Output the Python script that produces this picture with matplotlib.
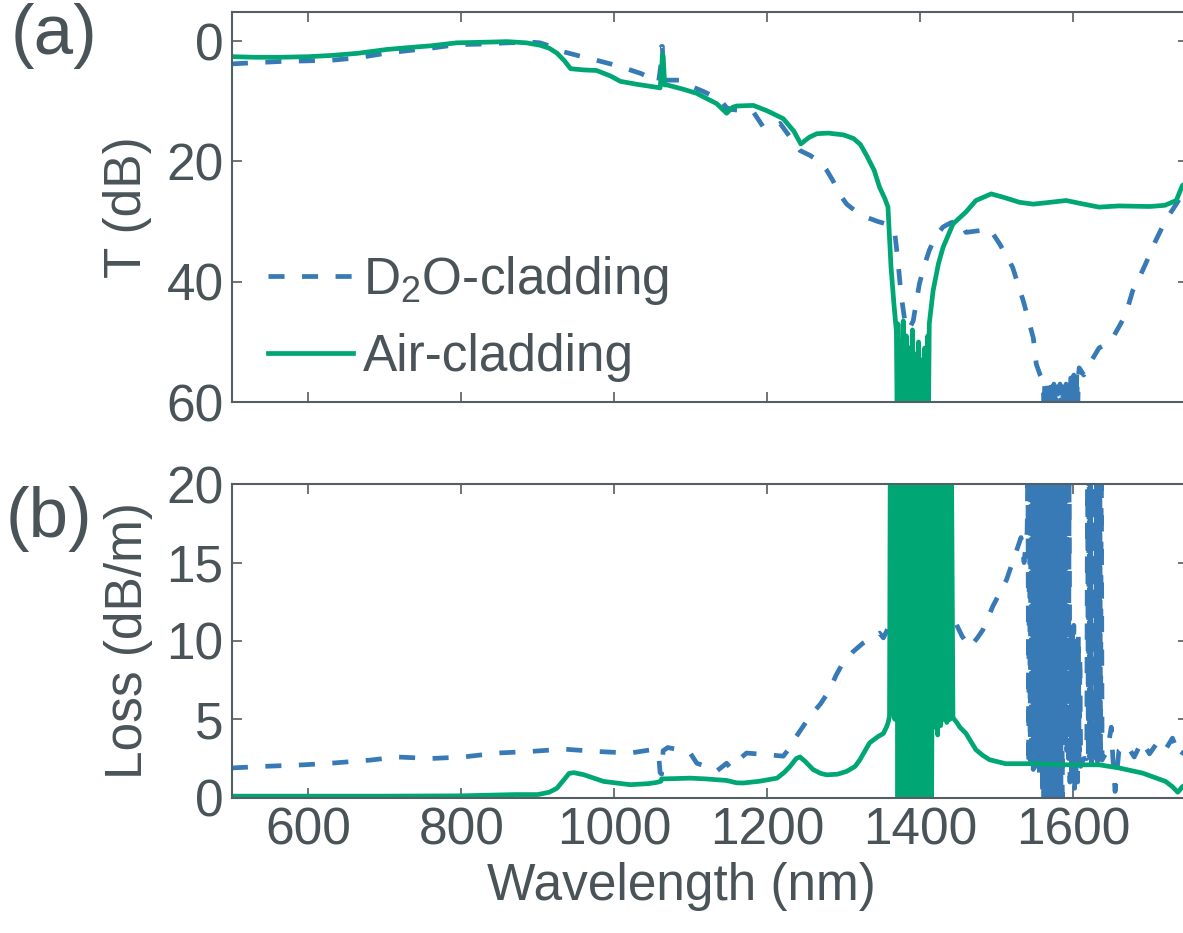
import matplotlib
matplotlib.use("Agg")
import matplotlib.pyplot as plt

# Transmission (dB, plotted downward) for both claddings
wl_t_air = [500, 530, 564, 600, 630, 664, 703, 730, 760, 794, 830, 860, 885, 903, 915, 925,
            935, 943, 960, 977, 995, 1008, 1030, 1056, 1060, 1062, 1063, 1064, 1066, 1069,
            1090, 1108, 1120, 1134, 1147, 1155, 1160, 1182, 1200, 1221, 1235, 1244, 1255,
            1265, 1280, 1300, 1313, 1322, 1330, 1340, 1347, 1354, 1358, 1362, 1366, 1369,
            1370, 1371, 1372, 1374, 1376, 1378, 1380, 1382, 1384, 1386, 1388, 1390, 1392,
            1394, 1396, 1398, 1400, 1402, 1404, 1406, 1408, 1410, 1411, 1412,
            1417, 1424, 1430, 1443, 1460, 1473, 1493, 1510, 1530, 1548, 1570, 1591, 1610,
            1634, 1660, 1700, 1720, 1735, 1743, 1750]
t_air = [2.6, 2.7, 2.7, 2.6, 2.4, 2.05, 1.4, 1.1, 0.8, 0.3, 0.2, 0.1, 0.3, 0.7, 1.2, 2.0,
         3.3, 4.6, 4.8, 4.9, 5.8, 6.7, 7.2, 7.7, 7.8, 5.0, 2.3, 2.5, 7.3, 7.3,
         8.0, 8.7, 9.5, 10.4, 12.0, 11.0, 10.8, 10.7, 11.6, 12.9, 15.0, 17.1, 16.0,
         15.4, 15.3, 15.6, 16.2, 17.2, 19.0, 21.5, 24.3, 26.2, 27.6, 37.6, 44.0, 48.2,
         62, 47, 62, 50, 62, 46.5, 62, 49, 62, 51, 62, 48, 62,
         52, 62, 50, 62, 53, 62, 51, 62, 49, 62, 47,
         41.5, 37.0, 34.3, 30.4, 28.4, 26.5, 25.4, 26.0, 26.8, 27.1, 26.8, 26.5, 27.0,
         27.6, 27.4, 27.5, 27.3, 26.5, 24.0, 23.5]

wl_t_d2o = [500, 530, 564, 600, 630, 664, 703, 730, 760, 794, 830, 860, 893, 903, 915, 934,
            955, 977, 995, 1016, 1035, 1047, 1058, 1061, 1062, 1063, 1064, 1066, 1086, 1100,
            1117, 1130, 1138, 1147, 1155, 1170, 1182, 1195, 1205, 1217, 1225, 1243, 1256,
            1268, 1278, 1286, 1295, 1304, 1318, 1330, 1345, 1356, 1367, 1371, 1375, 1380,
            1385, 1391, 1395, 1399, 1405, 1412, 1420, 1430, 1440, 1452, 1460, 1478, 1491,
            1504, 1521, 1535, 1548, 1552, 1557, 1561,
            1562, 1563, 1564, 1565, 1566, 1567, 1568, 1569, 1570, 1571, 1572, 1573, 1574,
            1575, 1576, 1577, 1578, 1579, 1580, 1581, 1582, 1583, 1584, 1585, 1586, 1587,
            1588, 1589, 1590, 1591, 1592, 1593, 1594, 1595, 1596, 1597, 1598, 1599, 1600,
            1601, 1602, 1603, 1604, 1605, 1606, 1607,
            1608, 1614, 1621, 1627, 1634, 1642, 1652, 1660, 1669, 1678, 1686, 1695, 1708,
            1721, 1735, 1743, 1750]
t_d2o = [3.8, 3.6, 3.4, 3.3, 3.2, 2.8, 2.0, 1.6, 1.2, 0.6, 0.5, 0.3, 0.2, 0.3, 0.8, 1.8,
         2.5, 3.2, 3.8, 4.6, 5.4, 6.1, 6.8, 4.0, 0.9, 0.9, 5.0, 6.5, 6.5, 7.5,
         8.4, 9.2, 9.6, 11.1, 11.4, 11.6, 11.8, 14.3, 14.3, 13.7, 15.1, 18.2, 19.0,
         20.0, 21.5, 23.2, 25.5, 27.1, 28.5, 29.3, 30.0, 30.4, 32.0, 36.5, 42.0, 46.5,
         48.0, 46.5, 43.5, 40.4, 37.5, 34.8, 32.5, 30.9, 30.2, 29.8, 31.8, 31.5, 31.2,
         33.7, 37.6, 43.2, 49.3, 53.7, 55.5, 56.5,
         62, 57, 62, 58, 62, 56.5, 62, 58, 62, 57.5, 62, 58.5, 62,
         57, 62, 58, 62, 57.5, 62, 58.5, 62, 57, 62, 58, 62, 57.5,
         62, 58, 62, 57, 62, 58.5, 62, 57, 62, 56, 62, 57.5, 62,
         55.5, 62, 57, 62, 55, 62, 56,
         54.3, 55.5, 53.7, 52.5, 51.0, 50.5, 49.3, 47.5, 45.4, 41.5, 39.5, 37.0, 33.2,
         29.8, 27.1, 25.4, 24.5]

# Propagation loss (dB/m)
wl_l_air = [500, 600, 700, 800, 870, 900, 915, 925, 936, 941, 947, 960, 986, 1021, 1045,
            1056, 1061, 1062, 1080, 1099, 1120, 1147, 1160, 1169, 1190, 1213, 1222, 1230,
            1238, 1243, 1250, 1260, 1270, 1278, 1292, 1304, 1315, 1321, 1334, 1345, 1352,
            1356, 1358,
            1360, 1361, 1363, 1365, 1367, 1369, 1371, 1373, 1375, 1377, 1379, 1381, 1383,
            1385, 1387, 1389, 1391, 1393, 1395, 1397, 1399, 1401, 1403, 1405, 1407, 1409,
            1411, 1413, 1415, 1417, 1419, 1421, 1423, 1425, 1427, 1429, 1431, 1433, 1435,
            1437, 1439, 1441, 1443,
            1448, 1452, 1460, 1473, 1482, 1491, 1512, 1548, 1591, 1634, 1660, 1691, 1721,
            1730, 1737, 1743, 1750]
l_air = [0.1, 0.1, 0.1, 0.12, 0.2, 0.2, 0.35, 0.6, 1.25, 1.55, 1.6, 1.47, 1.04, 0.83, 0.9,
         0.98, 1.05, 1.2, 1.22, 1.25, 1.2, 1.1, 0.95, 0.94, 1.05, 1.25, 1.6, 2.0,
         2.5, 2.6, 2.3, 1.8, 1.55, 1.46, 1.5, 1.68, 2.0, 2.4, 3.5, 3.9, 4.1,
         4.5, 4.76,
         5.2, 22, 5.4, 22, 5.0, 22, -1, 22, -1, 22, -1, 22, -1,
         22, -1, 22, -1, 22, -1, 22, -1, 22, -1, 22, -1, 22,
         -1, 22, -1, 22, 4.5, 22, 4.0, 22, 4.6, 22, 5.0, 22, 4.8,
         22, 5.0, 22, 5.1,
         4.8, 4.5, 4.1, 3.06, 2.7, 2.42, 2.17, 2.17, 2.1, 2.1, 1.9, 1.57, 1.04,
         0.7, 0.35, 0.7, 0.9]

wl_l_d2o = [500, 542, 594, 629, 681, 716, 760, 803, 847, 890, 934, 977, 1021, 1047, 1058,
            1060, 1062, 1064, 1070, 1086, 1100, 1108, 1120, 1134, 1147, 1152, 1160, 1173,
            1199, 1221, 1230, 1238, 1256, 1270, 1282, 1290, 1299, 1312, 1325, 1340, 1347,
            1352, 1365, 1380, 1401, 1420, 1435, 1445, 1455, 1465, 1475, 1482, 1495, 1513,
            1525, 1532, 1536, 1540,
            1541, 1542, 1543, 1544, 1545, 1546, 1547, 1548, 1549, 1550, 1551, 1552, 1553,
            1554, 1555, 1556, 1557, 1558, 1559, 1560, 1561, 1562, 1563, 1564, 1565, 1566,
            1567, 1568, 1569, 1570, 1571, 1572, 1573, 1574, 1575, 1576, 1577, 1578, 1579,
            1580, 1581, 1582, 1583, 1584, 1585, 1586, 1587, 1588, 1589, 1590, 1591, 1592,
            1593, 1594, 1595, 1596, 1597, 1598, 1599, 1600, 1601, 1602, 1603, 1604, 1605,
            1606, 1607, 1608, 1609, 1610, 1614,
            1618, 1619, 1620, 1621, 1622, 1623, 1624, 1625, 1626, 1627, 1628, 1629, 1630,
            1631, 1632, 1633, 1634, 1635, 1636, 1637, 1638, 1639,
            1645, 1650, 1652, 1655, 1660, 1670, 1680, 1690, 1700, 1710, 1720, 1730, 1740,
            1750]
l_d2o = [1.9, 2.0, 2.1, 2.2, 2.4, 2.6, 2.5, 2.6, 2.85, 2.95, 3.1, 2.95, 2.85, 3.05, 2.8,
         1.6, 1.5, 3.0, 3.2, 3.05, 2.8, 2.2, 2.0, 1.7, 2.2, 1.9, 2.3, 2.85,
         2.75, 2.65, 3.2, 3.9, 5.2, 6.0, 6.9, 7.8, 8.6, 9.3, 9.85, 10.3, 10.5,
         10.2, 11.5, 12.8, 13.9, 12.5, 11.8, 11.3, 10.3, 9.6, 10.2, 10.7, 12.2, 13.9,
         15.6, 16.6, 15.0, 17.0,
         22, 2.0, 22, 2.4, 22, 2.2, 22, 1.8, 22, 2.6, 22, 2.0, 22,
         2.5, 22, 1.6, 22, 2.2, 22, -1, 22, -1, 22, -1, 22, -1,
         22, -1, 22, -1, 22, -1, 22, -1, 22, -1, 22, -1, 22,
         -1, 22, -1, 22, -1, 22, -1, 22, 3.5, 22, 3.2, 22, 3.0,
         22, 2.5, 22, 1.0, 11, 0.8, 10.5, 1.2, 11, 0.6, 10, 1.5, 9.5,
         1.0, 10.5, 2.0, 9, 2.0, 2.5,
         2.5, 22, 2.3, 22, 2.6, 22, 2.2, 22, 2.8, 22, 2.4, 22, 2.5,
         22, 2.3, 22, 2.7, 22, 2.2, 22, 2.4, 2.5,
         3.0, 4.5, 2.6, 0.4, 3.0, 3.4, 2.6, 3.6, 2.8, 3.5, 3.0, 3.8, 2.6,
         3.3]

xticks = [600, 800, 1000, 1200, 1400, 1600]

blue = "#377ab6"
green = "#00a775"
ink = "#4a5458"

plt.rcParams["font.family"] = ["Liberation Sans", "DejaVu Sans"]
plt.rcParams["mathtext.fontset"] = "custom"
plt.rcParams["mathtext.rm"] = "Liberation Sans"
plt.rcParams["mathtext.it"] = "Liberation Sans"
plt.rcParams["text.color"] = ink
plt.rcParams["axes.labelcolor"] = ink

fs = 37
lw = 3.4
dash = (3.4, 3.7)

fig = plt.figure(figsize=(11.83, 9.33), dpi=100)
ax1 = fig.add_axes([0.196, 0.569, 0.808, 0.418])
ax2 = fig.add_axes([0.196, 0.145, 0.808, 0.336])

ax1.plot(wl_t_d2o, t_d2o, color=blue, lw=lw, dashes=dash, label="D$_2$O-cladding")
ax1.plot(wl_t_air, t_air, color=green, lw=lw, label="Air-cladding")
ax1.set_xlim(500, 1750)
ax1.set_ylim(60, -4.8)
ax1.set_yticks([0, 20, 40, 60])
ax1.set_xticks(xticks)
ax1.set_xticklabels([])
ax1.set_ylabel("T (dB)", fontsize=fs)
ax1.yaxis.set_label_coords(-0.084, 0.5)
ax1.legend(loc="lower left", bbox_to_anchor=(0.0, -0.04), frameon=False, fontsize=fs,
           handlelength=1.65, handletextpad=0.2, labelspacing=0.5, borderaxespad=0.3)

ax2.plot(wl_l_d2o, l_d2o, color=blue, lw=lw, dashes=dash)
ax2.plot(wl_l_air, l_air, color=green, lw=lw)
ax2.set_xlim(500, 1750)
ax2.set_ylim(0, 20)
ax2.set_yticks([0, 5, 10, 15, 20])
ax2.set_xticks(xticks)
ax2.set_xlabel("Wavelength (nm)", fontsize=fs)
ax2.xaxis.set_label_coords(0.47, -0.205)
ax2.set_ylabel("Loss (dB/m)", fontsize=fs)
ax2.yaxis.set_label_coords(-0.082, 0.5)

for ax in (ax1, ax2):
    for s in ax.spines.values():
        s.set_color("#555e62")
        s.set_linewidth(1.5)
    ax.tick_params(direction="in", length=7, width=1.2, color="#555e62",
                   labelsize=fs, labelcolor=ink, pad=6,
                   top=True, right=True)

fig.text(0.009, 0.961, "(a)", fontsize=51, color=ink, va="center")
fig.text(0.005, 0.444, "(b)", fontsize=51, color=ink, va="center")

fig.savefig("out.png", dpi=100)
